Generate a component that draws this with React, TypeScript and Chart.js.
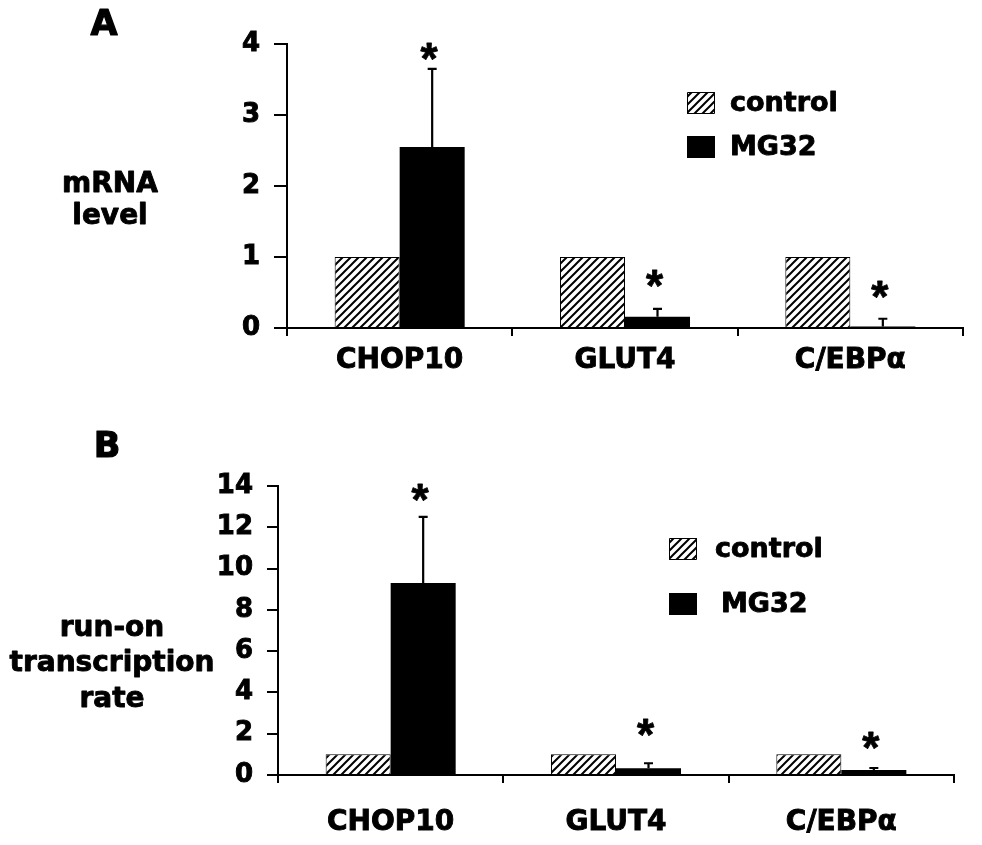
import React, { useEffect, useRef } from 'react';
import { Chart, registerables } from 'chart.js';

Chart.register(...registerables);

// ---------- data ----------
const categories = ['CHOP10', 'GLUT4', 'C/EBPα'];
const seriesNames = ['control', 'MG32'];

const mrnaControl = [1, 1, 1];
const mrnaMG32 = [2.55, 0.16, 0.02];
const mrnaMG32Err = [1.1, 0.11, 0.11];
const mrnaStar = [3.89, 0.7, 0.54];
const mrnaTicks = [0, 1, 2, 3, 4];
const mrnaTitle = ['mRNA', 'level'];

const runonControl = [1, 1, 1];
const runonMG32 = [9.3, 0.33, 0.24];
const runonMG32Err = [3.2, 0.24, 0.1];
const runonStar = [13.7, 2.28, 1.65];
const runonTicks = [0, 2, 4, 6, 8, 10, 12, 14];
const runonTitle = ['run-on', 'transcription', 'rate'];

const FONT = 'DejaVu Sans';

function makeHatch(): CanvasPattern | string {
  const c = document.createElement('canvas');
  c.width = 8;
  c.height = 8;
  const g = c.getContext('2d');
  if (!g) return '#fff';
  g.fillStyle = '#fff';
  g.fillRect(0, 0, 8, 8);
  g.strokeStyle = '#000';
  g.lineWidth = 2;
  g.beginPath();
  g.moveTo(-1, 9);
  g.lineTo(9, -1);
  g.moveTo(-3, 3);
  g.lineTo(3, -3);
  g.moveTo(5, 11);
  g.lineTo(11, 5);
  g.stroke();
  return g.createPattern(c, 'repeat') || '#fff';
}

interface PanelCfg {
  letter: string;
  letterX: number;
  letterY: number;
  title: string[];
  titleX: number;
  titleY: number[];
  control: number[];
  treated: number[];
  treatedErr: number[];
  stars: number[];
  ticks: number[];
  top: number;
  height: number;
  areaLeft: number;
  areaRight: number;
  areaTop: number;
  areaBottom: number;
  yTickLen: number;
  legendBoxX: number;
  legendBoxY: number[];
  legendTextX: number[];
  xLabelPad: number;
}

const W = 982;

const panelA: PanelCfg = {
  letter: 'A',
  letterX: 104,
  letterY: 35,
  title: mrnaTitle,
  titleX: 110,
  titleY: [192, 224],
  control: mrnaControl,
  treated: mrnaMG32,
  treatedErr: mrnaMG32Err,
  stars: mrnaStar,
  ticks: mrnaTicks,
  top: 0,
  height: 420,
  areaLeft: 287,
  areaRight: 963,
  areaTop: 44,
  areaBottom: 328,
  yTickLen: 13,
  legendBoxX: 687,
  legendBoxY: [92, 136],
  legendTextX: [730, 730],
  xLabelPad: 8,
};

const panelB: PanelCfg = {
  letter: 'B',
  letterX: 107,
  letterY: 37,
  title: runonTitle,
  titleX: 112,
  titleY: [216, 251, 287],
  control: runonControl,
  treated: runonMG32,
  treatedErr: runonMG32Err,
  stars: runonStar,
  ticks: runonTicks,
  top: 420,
  height: 425,
  areaLeft: 278,
  areaRight: 954,
  areaTop: 66,
  areaBottom: 355,
  yTickLen: 11,
  legendBoxX: 669,
  legendBoxY: [118, 173],
  legendTextX: [715, 721],
  xLabelPad: 23,
};

function boldText(ctx: CanvasRenderingContext2D, s: string, x: number, y: number) {
  ctx.fillText(s, x, y);
  ctx.strokeText(s, x, y);
}

function Panel({ cfg }: { cfg: PanelCfg }) {
  const ref = useRef<HTMLCanvasElement | null>(null);

  useEffect(() => {
    const canvas = ref.current;
    if (!canvas) return;
    const hatch = makeHatch();

    const decor = {
      id: 'decor',
      afterDraw(chart: any) {
        const ctx: CanvasRenderingContext2D = chart.ctx;
        const yScale = chart.scales.y;
        ctx.save();
        ctx.fillStyle = '#000';
        ctx.strokeStyle = '#000';
        ctx.lineJoin = 'round';

        // panel letter
        ctx.lineWidth = 1.2;
        ctx.font = `bold 35px "${FONT}"`;
        ctx.textAlign = 'center';
        ctx.textBaseline = 'alphabetic';
        boldText(ctx, cfg.letter, cfg.letterX, cfg.letterY);

        // y title
        ctx.lineWidth = 0.9;
        ctx.font = `bold 28px "${FONT}"`;
        cfg.title.forEach((line, i) => boldText(ctx, line, cfg.titleX, cfg.titleY[i]));

        // error bars
        const meta = chart.getDatasetMeta(1);
        ctx.lineWidth = 2.2;
        meta.data.forEach((bar: any, i: number) => {
          const yTop = yScale.getPixelForValue(cfg.treated[i] + cfg.treatedErr[i]);
          ctx.beginPath();
          ctx.moveTo(bar.x, bar.y);
          ctx.lineTo(bar.x, yTop);
          ctx.moveTo(bar.x - 4.5, yTop);
          ctx.lineTo(bar.x + 4.5, yTop);
          ctx.stroke();
        });

        // asterisks
        ctx.font = `bold 44px "Liberation Sans"`;
        ctx.textAlign = 'center';
        ctx.textBaseline = 'alphabetic';
        const m = ctx.measureText('*');
        const asc = m.actualBoundingBoxAscent || 20;
        const desc = m.actualBoundingBoxDescent || 0;
        ctx.lineWidth = 0.8;
        meta.data.forEach((bar: any, i: number) => {
          const yc = yScale.getPixelForValue(cfg.stars[i]);
          boldText(ctx, '*', bar.x - 3, yc + (asc - desc) / 2);
        });

        // legend
        ctx.font = `bold 27px "${FONT}"`;
        ctx.textAlign = 'left';
        ctx.textBaseline = 'middle';
        seriesNames.forEach((name, i) => {
          const bx = cfg.legendBoxX;
          const by = cfg.legendBoxY[i];
          ctx.fillStyle = i === 0 ? (hatch as any) : '#000';
          ctx.fillRect(bx, by, 28, 22);
          ctx.lineWidth = 1;
          ctx.strokeStyle = '#000';
          ctx.strokeRect(bx + 0.5, by + 0.5, 27, 21);
          ctx.fillStyle = '#000';
          ctx.lineWidth = 0.9;
          boldText(ctx, name, cfg.legendTextX[i], by + 12);
        });
        ctx.restore();
      },
    };

    const chart = new Chart(canvas, {
      type: 'bar',
      data: {
        labels: categories,
        datasets: [
          {
            label: seriesNames[0],
            data: cfg.control,
            backgroundColor: hatch as any,
            borderColor: '#000',
            borderWidth: 1,
            categoryPercentage: 0.577,
            barPercentage: 1,
          },
          {
            label: seriesNames[1],
            data: cfg.treated,
            backgroundColor: '#000',
            borderColor: '#000',
            borderWidth: 0,
            categoryPercentage: 0.577,
            barPercentage: 1,
          },
        ],
      },
      options: {
        animation: false,
        responsive: false,
        maintainAspectRatio: false,
        devicePixelRatio: 1,
        events: [],
        layout: {
          padding: { left: 0, right: W - cfg.areaRight, top: cfg.areaTop, bottom: 0 },
        },
        plugins: {
          legend: { display: false },
          tooltip: { enabled: false },
          title: { display: false },
        },
        scales: {
          x: {
            type: 'category',
            offset: true,
            grid: {
              display: true,
              drawOnChartArea: false,
              drawTicks: true,
              tickLength: 8,
              color: '#000',
              lineWidth: 2,
              offset: true,
            },
            border: { display: true, color: '#000', width: 2 },
            ticks: {
              color: '#000',
              padding: cfg.xLabelPad,
              font: { family: FONT, weight: 'bold', size: 28 },
              textStrokeColor: '#000',
              textStrokeWidth: 0.9,
              maxRotation: 0,
              autoSkip: false,
            },
            afterFit: (scale: any) => {
              scale.height = cfg.height - cfg.areaBottom;
            },
          },
          y: {
            min: cfg.ticks[0],
            max: cfg.ticks[cfg.ticks.length - 1],
            grid: {
              display: true,
              drawOnChartArea: false,
              drawTicks: true,
              tickLength: cfg.yTickLen,
              color: '#000',
              lineWidth: 2,
            },
            border: { display: true, color: '#000', width: 2 },
            ticks: {
              stepSize: cfg.ticks[1] - cfg.ticks[0],
              color: '#000',
              padding: 14,
              font: { family: FONT, weight: 'bold', size: 26 },
              textStrokeColor: '#000',
              textStrokeWidth: 0.9,
            },
            afterFit: (scale: any) => {
              scale.width = cfg.areaLeft;
            },
          },
        },
      } as any,
      plugins: [decor],
    });

    return () => chart.destroy();
  }, [cfg]);

  return (
    <canvas
      ref={ref}
      width={W}
      height={cfg.height}
      style={{ position: 'absolute', left: 0, top: cfg.top, width: W, height: cfg.height }}
    />
  );
}

export default function App() {
  return (
    <div style={{ position: 'absolute', left: 0, top: 0, width: W, height: 845, background: '#fff' }}>
      <Panel cfg={panelA} />
      <Panel cfg={panelB} />
    </div>
  );
}
